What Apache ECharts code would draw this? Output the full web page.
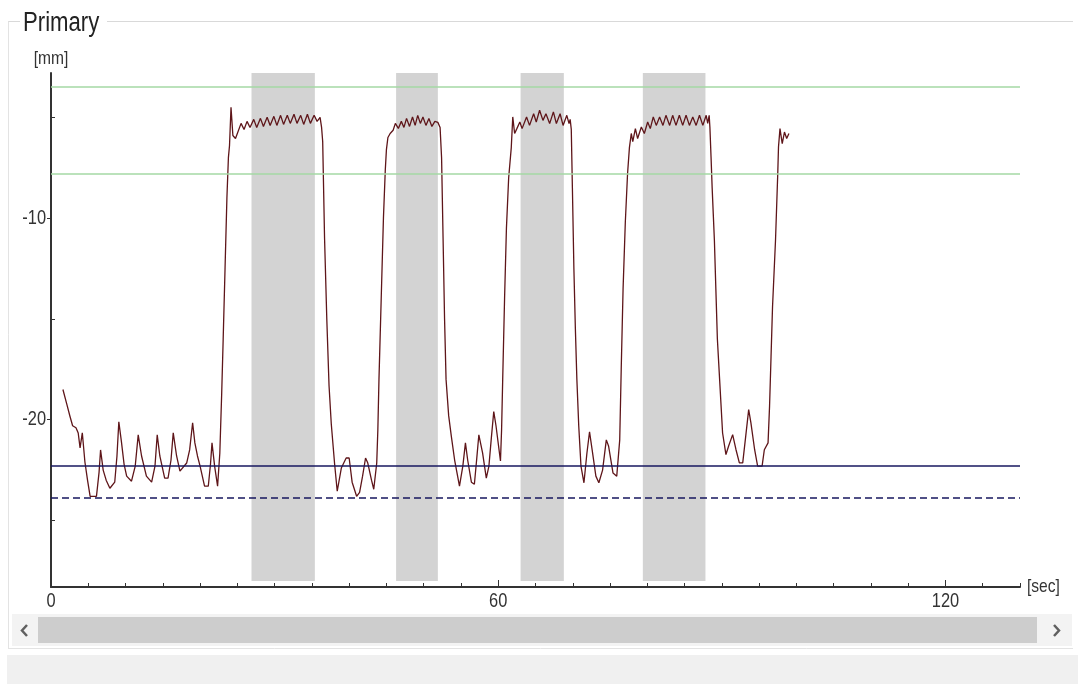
<!DOCTYPE html>
<html>
<head>
<meta charset="utf-8">
<script src="https://cdn.jsdelivr.net/npm/echarts@6/dist/echarts.min.js"></script>
<style>
html,body{margin:0;padding:0;background:#fff;}
#chart{width:1078px;height:684px;}
</style>
</head>
<body>
<div id="chart"></div>
<script>
// ---- data (seconds, mm) ----
const startLow = [[1.6,-18.5],[2.1,-19.2],[2.55,-19.84],[2.9,-20.3],[3.35,-20.4],[3.65,-20.66],[3.9,-21.4],[4.2,-20.65],[4.55,-22.1],[4.9,-23.0],[5.25,-23.8],[6.1,-23.8],[6.45,-22.6],[6.65,-21.5],[7.0,-22.5],[7.4,-23.0],[7.9,-23.4],[8.55,-23.1],[8.85,-21.8],[9.1,-20.1],[9.45,-21.1],[9.8,-22.2],[10.15,-22.8],[10.8,-23.05],[11.3,-22.3],[11.7,-20.75],[12.15,-21.8],[12.8,-22.8],[13.5,-23.1],[13.95,-22.3],[14.25,-20.75],[14.6,-21.8],[15.25,-22.9],[15.7,-22.9],[16.1,-22.0],[16.4,-20.65],[16.85,-21.8],[17.3,-22.55],[18.2,-22.15],[18.6,-21.5],[19.0,-20.15],[19.3,-21.15],[19.65,-21.8],[20.0,-22.3],[20.6,-23.3],[21.1,-23.3],[21.4,-22.2],[21.6,-21.15],[21.95,-22.3],[22.35,-23.3],[22.65,-21.65]];
const cycle1High = [[22.9,-18.7],[23.1,-16.0],[23.35,-12.5],[23.6,-9.0],[23.8,-7.0],[23.95,-6.4],[24.15,-4.5],[24.4,-5.9],[24.75,-6.05],[25.0,-5.8],[25.5,-5.3],[25.9,-5.6],[26.3,-5.2],[26.7,-5.5],[27.2,-5.1],[27.6,-5.5],[28.1,-5.05],[28.5,-5.45],[29.0,-5.0],[29.4,-5.4],[29.9,-4.95],[30.3,-5.4],[30.8,-4.9],[31.2,-5.35],[31.7,-4.9],[32.1,-5.3],[32.6,-4.85],[33.0,-5.3],[33.5,-4.9],[33.9,-5.35],[34.4,-4.85],[34.8,-5.3],[35.3,-4.9],[35.7,-5.2],[36.1,-5.0],[36.3,-5.5]];
const cycle1Low = [[36.45,-6.2],[36.7,-11.0],[37.0,-15.0],[37.3,-18.3],[37.6,-20.2],[38.05,-22.2],[38.4,-23.55],[38.95,-22.4],[39.6,-21.9],[40.0,-21.9],[40.4,-23.1],[41.0,-23.8],[41.4,-23.6],[41.8,-22.8],[42.2,-21.9],[42.5,-22.15],[43.0,-23.0],[43.3,-23.45],[43.7,-22.15],[43.85,-20.5],[44.0,-18.0]];
const cycle2High = [[44.3,-14.0],[44.6,-10.0],[44.85,-7.6],[45.0,-6.6],[45.2,-6.0],[45.5,-5.8],[45.9,-5.64],[46.2,-5.3],[46.6,-5.55],[47.0,-5.2],[47.35,-5.5],[47.7,-5.05],[48.1,-5.45],[48.5,-4.98],[48.85,-5.4],[49.2,-4.9],[49.55,-5.3],[49.9,-4.98],[50.3,-5.4],[50.7,-5.06],[51.1,-5.45],[51.5,-5.2],[51.9,-5.25],[52.2,-5.5]];
const cycle2Low = [[52.4,-7.0],[52.6,-11.0],[52.8,-15.0],[53.0,-18.0],[53.35,-19.8],[53.7,-20.8],[54.15,-22.0],[54.8,-23.3],[55.25,-22.3],[55.6,-21.15],[55.9,-22.0],[56.4,-23.1],[56.8,-23.2],[57.1,-22.0],[57.4,-20.75],[57.9,-21.65],[58.4,-22.9],[58.75,-22.3],[59.1,-20.8],[59.4,-19.6],[59.7,-20.3],[60.3,-22.05],[60.45,-20.5],[60.6,-18.0]];
const cycle3High = [[60.85,-14.0],[61.1,-10.5],[61.4,-8.0],[61.75,-6.5],[61.95,-4.98],[62.2,-5.8],[62.5,-5.56],[62.9,-5.23],[63.2,-5.56],[63.8,-4.98],[64.2,-5.4],[64.75,-4.82],[65.1,-5.23],[65.55,-4.65],[66.0,-5.15],[66.4,-4.82],[66.9,-5.31],[67.4,-4.73],[67.8,-5.31],[68.3,-4.82],[68.7,-5.4],[69.2,-4.9],[69.5,-5.31],[69.65,-5.1]];
const cycle3Low = [[69.8,-5.6],[69.95,-8.5],[70.15,-12.5],[70.35,-15.5],[70.55,-18.0],[70.8,-20.3],[71.1,-22.3],[71.5,-23.13],[71.9,-21.65],[72.25,-20.6],[72.6,-21.5],[73.1,-22.8],[73.5,-23.13],[74.0,-22.5],[74.5,-21.0],[74.8,-21.3],[75.4,-22.65],[75.9,-22.8],[76.3,-21.0],[76.5,-17.5]];
const cycle4High = [[76.75,-13.5],[77.05,-10.2],[77.35,-7.8],[77.6,-6.5],[77.85,-5.8],[78.05,-6.2],[78.4,-5.56],[78.7,-6.05],[79.2,-5.48],[79.6,-5.8],[80.05,-5.23],[80.4,-5.56],[80.8,-4.98],[81.2,-5.4],[81.65,-4.98],[82.1,-5.4],[82.5,-4.9],[83.0,-5.4],[83.4,-4.9],[83.85,-5.4],[84.3,-4.9],[84.75,-5.4],[85.2,-4.9],[85.65,-5.4],[86.1,-4.98],[86.55,-5.4],[87.0,-4.9],[87.45,-5.4],[87.9,-4.9],[88.1,-5.3],[88.3,-4.9],[88.4,-5.5]];
const cycle4Low = [[88.55,-6.96],[88.7,-8.5],[88.85,-9.8],[89.0,-11.1],[89.2,-13.56],[89.4,-16.0],[89.7,-18.0],[90.1,-20.66],[90.55,-21.73],[90.9,-21.32],[91.45,-20.74],[91.9,-21.49],[92.35,-22.14],[92.8,-22.14],[93.2,-20.83],[93.6,-19.5],[93.9,-20.16],[94.4,-21.49],[94.8,-22.3],[95.4,-22.3],[95.7,-21.49],[96.2,-21.15],[96.4,-19.34],[96.6,-16.87],[96.8,-14.4],[97.2,-11.1],[97.5,-7.8],[97.6,-6.47],[97.8,-5.56],[98.1,-6.3],[98.4,-5.73],[98.7,-6.05],[99.0,-5.8]];

// shaded intervals [start sec, end sec]
const bands = [[26.9,35.4],[46.3,51.9],[63.0,68.8],[79.4,87.8]];
const bandBottom = -28.0;
// limit lines (mm)
const greenLimits = [-3.47,-7.81];
const blueSolid = -22.28;
const blueDashed = -23.85;
// axes
const xMin = 0, xMax = 130;
const yMin = -28.3, yMax = -2.8;
const xLabels = [0,60,120];
const xMinorTicks = [5,10,15,20,25,30,35,40,45,50,55,65,70,75,80,85,90,95,100,105,110,115,125,130];
const yLabels = [-20,-10];
const yMinorTicks = [-25,-15,-5];

const trace = [].concat(startLow,cycle1High,cycle1Low,cycle2High,cycle2Low,cycle3High,cycle3Low,cycle4High,cycle4Low);

const FONT = "'Liberation Sans',Arial,sans-serif";
const NARROW = 0.82;
const AX = '#333333';

const chart = echarts.init(document.getElementById('chart'), null, {renderer:'canvas'});
chart.setOption({
  animation:false,
  backgroundColor:'#ffffff',
  textStyle:{fontFamily:FONT},
  grid:{left:51,right:58,top:73,bottom:97,outerBoundsMode:'none'},
  xAxis:[{
    type:'value',min:xMin,max:xMax,interval:5,position:'bottom',
    axisLine:{show:true,onZero:false,lineStyle:{color:AX,width:2}},
    axisTick:{show:true,inside:true,length:4,customValues:xMinorTicks,lineStyle:{color:AX,width:1}},
    axisLabel:{show:true,customValues:xLabels,fontSize:20,color:AX,margin:4,fontFamily:FONT},
    splitLine:{show:false},
    name:'[sec]',nameLocation:'end',nameGap:7,
    nameTextStyle:{fontSize:19,color:AX,fontFamily:FONT}
  },{
    type:'value',min:xMin,max:xMax,interval:5,position:'bottom',
    axisLine:{show:false,onZero:false},
    axisTick:{show:true,inside:true,length:7,customValues:xLabels,lineStyle:{color:AX,width:1}},
    axisLabel:{show:false},splitLine:{show:false}
  }],
  yAxis:[{
    type:'value',min:yMin,max:yMax,position:'left',
    axisLine:{show:true,onZero:false,lineStyle:{color:AX,width:2}},
    axisTick:{show:true,inside:false,length:4,customValues:yLabels,lineStyle:{color:AX,width:1}},
    axisLabel:{show:true,customValues:yLabels,fontSize:20,color:AX,margin:5,fontFamily:FONT},
    splitLine:{show:false},
    name:'[mm]',nameLocation:'end',nameGap:5,
    nameTextStyle:{fontSize:19,color:AX,fontFamily:FONT}
  },{
    type:'value',min:yMin,max:yMax,position:'left',
    axisLine:{show:false,onZero:false},
    axisTick:{show:true,inside:true,length:4,customValues:yMinorTicks,lineStyle:{color:AX,width:1}},
    axisLabel:{show:false},splitLine:{show:false}
  }],
  series:[{
    name:'greenLimits',type:'line',data:[],z:1,silent:true,
    markLine:{silent:true,symbol:['none','none'],label:{show:false},
      lineStyle:{color:'#a4d9a4',width:1.5,type:'solid'},
      data:greenLimits.map(v=>({yAxis:v}))}
  },{
    name:'bands',type:'line',data:[],z:2,silent:true,
    markArea:{silent:true,itemStyle:{color:'#d3d3d3',opacity:1},label:{show:false},
      data:bands.map(b=>[{xAxis:b[0],yAxis:bandBottom},{xAxis:b[1],yAxis:yMax}])}
  },{
    name:'blueLimits',type:'line',data:[],z:3,silent:true,
    markLine:{silent:true,symbol:['none','none'],label:{show:false},
      data:[
        {yAxis:blueSolid,lineStyle:{color:'#17175f',width:1.5,type:'solid'}},
        {yAxis:blueDashed,lineStyle:{color:'#17175f',width:1.5,type:[7,4]}}
      ]}
  },{
    name:'Primary',type:'line',data:trace,z:4,
    showSymbol:false,symbol:'none',
    lineStyle:{color:'#5e1519',width:1.3},
    clip:true
  }],
  graphic:[
    // group box frame
    {type:'line',silent:true,shape:{x1:8,y1:21.5,x2:20,y2:21.5},style:{stroke:'#d9d9d9',lineWidth:1}},
    {type:'line',silent:true,shape:{x1:107,y1:21.5,x2:1073,y2:21.5},style:{stroke:'#d9d9d9',lineWidth:1}},
    {type:'line',silent:true,shape:{x1:8.5,y1:21.5,x2:8.5,y2:648},style:{stroke:'#e3e3e3',lineWidth:1}},
    {type:'line',silent:true,shape:{x1:8,y1:648.5,x2:1073,y2:648.5},style:{stroke:'#e3e3e3',lineWidth:1}},
    {type:'text',silent:true,x:23,y:24,style:{text:'Primary',fontSize:27,fontFamily:FONT,fill:'#222',verticalAlign:'middle',align:'left'}},
    // bottom panel
    {type:'rect',silent:true,shape:{x:7,y:655,width:1071,height:29},style:{fill:'#f0f0f0'}},
    // scrollbar
    {type:'rect',silent:true,shape:{x:12,y:614,width:1060,height:32},style:{fill:'#f3f3f3'}},
    {type:'rect',silent:true,shape:{x:38,y:617,width:999,height:26},style:{fill:'#cdcdcd'}},
    {type:'polyline',silent:true,shape:{points:[[27,625],[22,630.5],[27,636]]},style:{stroke:'#606060',lineWidth:2.5,fill:null}},
    {type:'polyline',silent:true,shape:{points:[[1054,625],[1059,630.5],[1054,636]]},style:{stroke:'#606060',lineWidth:2.5,fill:null}}
  ]
});

// emulate the narrow UI font: squeeze every text element horizontally around its anchor
(function condenseText(){
  const zr = chart.getZr();
  const seen = new Set();
  zr.storage.getDisplayList(true).forEach(function(d){
    const t = d.parent;
    if (t && t.type === 'text' && !seen.has(t)) {
      seen.add(t);
      t.scaleX = NARROW;
      t.markRedraw();
    }
  });
  zr.refreshImmediately();
})();
</script>
</body>
</html>
